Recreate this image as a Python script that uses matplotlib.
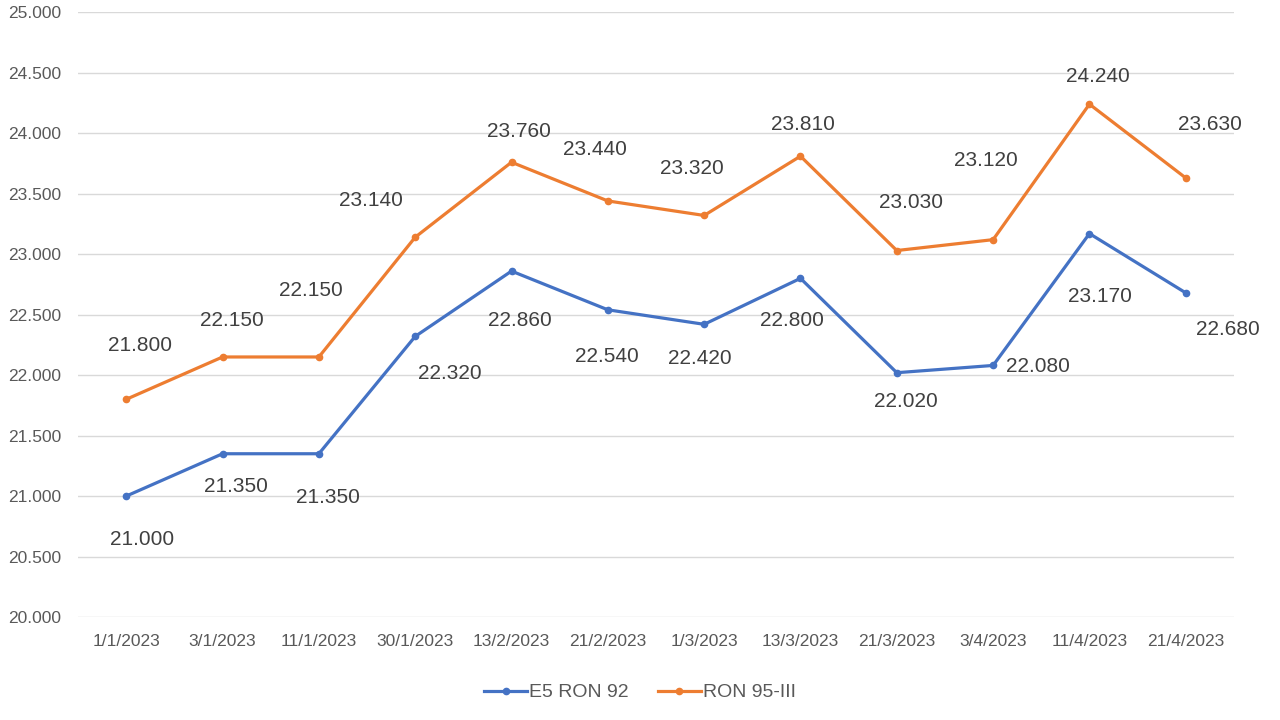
import matplotlib
matplotlib.use("Agg")
import matplotlib.pyplot as plt
from matplotlib.ticker import FuncFormatter

dates = ["1/1/2023", "3/1/2023", "11/1/2023", "30/1/2023", "13/2/2023", "21/2/2023",
         "1/3/2023", "13/3/2023", "21/3/2023", "3/4/2023", "11/4/2023", "21/4/2023"]
e5_ron92 = [21000, 21350, 21350, 22320, 22860, 22540, 22420, 22800, 22020, 22080, 23170, 22680]
ron95 = [21800, 22150, 22150, 23140, 23760, 23440, 23320, 23810, 23030, 23120, 24240, 23630]

# label offsets in pixels (dx, dy)
e5_offsets = [(16, -43), (13, -33), (9, -44), (35, -37), (8, -49), (-1, -47),
              (-4, -34), (-9, -42), (9, -29), (45, -1), (10, -63), (42, -37)]
ron95_offsets = [(14, 54), (9, 36), (-8, 66), (-44, 37), (7, 31), (-13, 51),
                 (-12, 47), (2, 32), (14, 48), (-7, 79), (8, 28), (24, 53)]

blue = "#4472C4"
orange = "#ED7D31"
grey = "#595959"

plt.rcParams['font.family'] = ['Liberation Sans', 'DejaVu Sans']

fig = plt.figure(figsize=(12.8, 7.2), dpi=100)
ax = fig.add_axes([0.061, 0.143, 0.903, 0.840])

x = list(range(len(dates)))
ax.plot(x, e5_ron92, color=blue, lw=2.3, marker='o', ms=4.5, label="E5 RON 92")
ax.plot(x, ron95, color=orange, lw=2.3, marker='o', ms=4.5, label="RON 95-III")

def fmt(v):
    return "{:,.0f}".format(v).replace(",", ".")

for xi, v, off in zip(x, e5_ron92, e5_offsets):
    ax.annotate(fmt(v), (xi, v), xytext=off, textcoords='offset pixels',
                ha='center', va='center', fontsize=15, color="#404040")
for xi, v, off in zip(x, ron95, ron95_offsets):
    ax.annotate(fmt(v), (xi, v), xytext=off, textcoords='offset pixels',
                ha='center', va='center', fontsize=15, color="#404040")

ax.set_xlim(-0.5, len(dates) - 0.5)
ax.set_ylim(20000, 25000)
ax.set_yticks(range(20000, 25001, 500))
ax.yaxis.set_major_formatter(FuncFormatter(lambda v, p: fmt(v)))
ax.set_xticks(x)
ax.set_xticklabels(dates)
ax.tick_params(axis='both', length=0, colors=grey, labelsize=12.5)
ax.tick_params(axis='x', pad=12)
ax.tick_params(axis='y', pad=12)

ax.grid(axis='y', color="#D9D9D9", lw=1)
ax.set_axisbelow(True)
for s in ax.spines.values():
    s.set_visible(False)

leg = fig.legend(loc='center', bbox_to_anchor=(0.5, 0.038), ncol=2, frameon=False,
                 fontsize=14, handlelength=2.2, handletextpad=0.1, columnspacing=1.5)
for t in leg.get_texts():
    t.set_color(grey)

fig.savefig("out.png", dpi=100)
